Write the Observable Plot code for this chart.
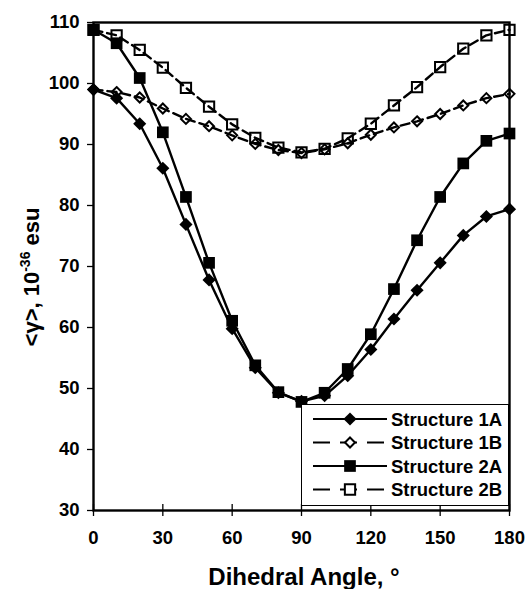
<!DOCTYPE html>
<html><head><meta charset="utf-8">
<script src="https://cdn.jsdelivr.net/npm/d3@7"></script>
<script src="https://cdn.jsdelivr.net/npm/@observablehq/plot@0.6"></script>
<style>
body{margin:0;background:#fff}
#chart{position:relative;width:530px;height:589px;background:#fff}
#chart svg.plot{position:absolute;left:0;top:0}
#legend{position:absolute;left:301px;top:404px;width:206px;height:100px;border:1.5px solid #000;background:#fff}
</style>
</head><body><div id="chart"></div>
<script>
const angles = [0,10,20,30,40,50,60,70,80,90,100,110,120,130,140,150,160,170,180];
const s1A = [99.0,97.6,93.4,86.1,76.9,67.8,59.8,53.4,49.3,47.9,48.8,52.1,56.4,61.4,66.1,70.6,75.1,78.2,79.4];
const s1B = [99.0,98.6,97.7,95.9,94.2,93.0,91.5,90.1,89.1,88.6,89.2,90.2,91.6,92.8,93.8,95.0,96.4,97.6,98.3];
const s2A = [108.8,106.6,100.9,92.0,81.4,70.6,61.1,53.8,49.4,47.8,49.3,53.2,58.9,66.3,74.3,81.4,86.9,90.6,91.8];
const s2B = [108.8,107.9,105.5,102.6,99.3,96.2,93.3,91.1,89.5,88.7,89.3,91.0,93.4,96.4,99.4,102.7,105.7,107.9,108.8];
const seriesNames = ["Structure 1A","Structure 1B","Structure 2A","Structure 2B"];
const xTicks = [0,30,60,90,120,150,180];
const yTicks = [30,40,50,60,70,80,90,100,110];
const xLabel = "Dihedral Angle, °";
const yLabelMain = "<γ>, 10";
const yLabelSup = "-36";
const yLabelEnd = " esu";

const seriesValues = [s1A, s1B, s2A, s2B];
const styles = [
  {dash: null, symbol: d3.symbolDiamond2, r: 5.9, fill: "black", sw: 0},
  {dash: "9,5", symbol: d3.symbolDiamond2, r: 4.5, fill: "none", sw: 2},
  {dash: null, symbol: d3.symbolSquare, r: 6.6, fill: "black", sw: 0},
  {dash: "9,5", symbol: d3.symbolSquare, r: 5.8, fill: "none", sw: 2}
];
const rows = seriesNames.map((name, k) => angles.map((a, i) => ({angle: a, value: seriesValues[k][i], series: name})));

const marks = [
  Plot.axisX(xTicks, {tickSize: 12, dy: -6, tickFormat: () => "", label: null, strokeWidth: 1.3}),
  Plot.axisX(xTicks, {tickSize: 0, tickPadding: 20, label: null, fontSize: 18.5}),
  Plot.axisY(yTicks, {tickSize: 6, tickPadding: 8, label: null, fontSize: 18.5, strokeWidth: 1.3})
];
rows.forEach((data, k) => {
  const st = styles[k];
  marks.push(Plot.line(data, {x: "angle", y: "value", stroke: "black", strokeWidth: 2.4, strokeDasharray: st.dash}));
});
rows.forEach((data, k) => {
  const st = styles[k];
  marks.push(Plot.dot(data, {x: "angle", y: "value", symbol: st.symbol, r: st.r, fill: st.fill, stroke: st.fill === "none" ? "black" : "none", strokeWidth: st.sw}));
});
marks.push(Plot.frame({stroke: "black", strokeWidth: 2.4}));

const plot = Plot.plot({
  width: 530, height: 589,
  marginLeft: 93, marginRight: 21, marginTop: 22, marginBottom: 79,
  x: {domain: [0, 180]},
  y: {domain: [30, 110]},
  style: {fontFamily: "'Liberation Sans', Arial, sans-serif", fontWeight: "bold", fontSize: "18px", background: "white", color: "black"},
  marks
});
plot.classList.add("plot");
const chart = document.getElementById("chart");
chart.appendChild(plot);

const svg = d3.select(plot);
svg.append("text")
  .attr("x", 304).attr("y", 585)
  .attr("text-anchor", "middle")
  .attr("font-size", 24).attr("font-weight", "bold").attr("fill", "black")
  .text(xLabel);
const yl = svg.append("text")
  .attr("transform", "translate(39,277) rotate(-90)")
  .attr("text-anchor", "middle")
  .attr("font-size", 22).attr("font-weight", "bold").attr("fill", "black");
yl.append("tspan").text(yLabelMain);
yl.append("tspan").attr("font-size", 14).attr("dy", -9).text(yLabelSup);
yl.append("tspan").attr("dy", 9).text(yLabelEnd);

// legend inside plot area
const legend = d3.select(chart).append("div").attr("id", "legend");
const lsvg = legend.append("svg").attr("width", 206).attr("height", 100)
  .style("font-family", "'Liberation Sans', Arial, sans-serif").style("font-weight", "bold");
const rowY = [14, 37.5, 61, 84.5];
seriesNames.forEach((name, k) => {
  const st = styles[k];
  const g = lsvg.append("g").attr("transform", `translate(0,${rowY[k]})`);
  g.append("line").attr("x1", 11).attr("x2", 85).attr("y1", 0).attr("y2", 0)
    .attr("stroke", "black").attr("stroke-width", 2.2)
    .attr("stroke-dasharray", st.dash ? "17,10" : null);
  g.append("path").attr("transform", "translate(48,0)")
    .attr("d", d3.symbol(st.symbol, st.r * st.r * Math.PI)())
    .attr("fill", st.fill === "none" ? "white" : "black")
    .attr("stroke", st.fill === "none" ? "black" : "none")
    .attr("stroke-width", st.sw);
  g.append("text").attr("x", 89).attr("y", 0).attr("dy", "0.36em")
    .attr("font-size", 18.5).attr("fill", "black").text(name);
});
</script>
</body></html>
